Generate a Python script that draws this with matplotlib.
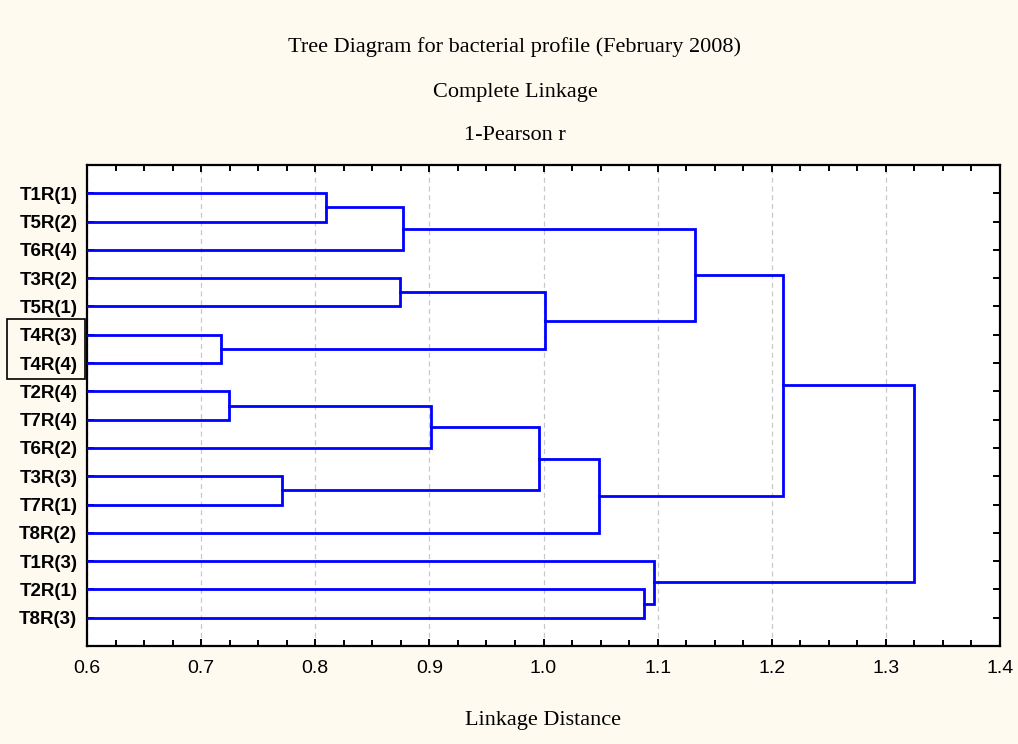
import matplotlib
matplotlib.use("Agg")
import matplotlib.pyplot as plt
from matplotlib.patches import Rectangle
from matplotlib.ticker import MultipleLocator
import matplotlib.transforms as mtransforms

# leaf labels, top to bottom
leaves = ["T1R(1)", "T5R(2)", "T6R(4)", "T3R(2)", "T5R(1)", "T4R(3)", "T4R(4)",
          "T2R(4)", "T7R(4)", "T6R(2)", "T3R(3)", "T7R(1)", "T8R(2)",
          "T1R(3)", "T2R(1)", "T8R(3)"]

# merges: (left child, right child, linkage distance); children are leaf names or merge ids
merges = {
    "A": ("T1R(1)", "T5R(2)", 0.809),
    "B": ("A", "T6R(4)", 0.877),
    "C": ("T3R(2)", "T5R(1)", 0.874),
    "D": ("T4R(3)", "T4R(4)", 0.717),
    "E": ("C", "D", 1.001),
    "F": ("B", "E", 1.133),
    "G": ("T2R(4)", "T7R(4)", 0.724),
    "H": ("G", "T6R(2)", 0.901),
    "I": ("T3R(3)", "T7R(1)", 0.771),
    "J": ("H", "I", 0.996),
    "K": ("J", "T8R(2)", 1.049),
    "L": ("F", "K", 1.210),
    "M": ("T2R(1)", "T8R(3)", 1.088),
    "N": ("T1R(3)", "M", 1.097),
    "O": ("L", "N", 1.325),
}

xmin, xmax = 0.6, 1.4
bg = "#fefaf0"
blue = "#0000ff"

fig = plt.figure(figsize=(10.18, 7.44), dpi=100, facecolor=bg)
ax = fig.add_axes([87 / 1018, 1 - 646 / 744, 913 / 1018, 481 / 744])
ax.set_facecolor("white")

pos = {name: (xmin, i + 1) for i, name in enumerate(leaves)}
for key, (a, b, d) in merges.items():
    xa, ya = pos[a]
    xb, yb = pos[b]
    ax.plot([xa, d, d, xb], [ya, ya, yb, yb], color=blue, lw=2.0,
            solid_joinstyle="miter", zorder=3)
    pos[key] = (d, (ya + yb) / 2)

ax.set_xlim(xmin, xmax)
ax.set_ylim(len(leaves) + 1, 0)
ax.xaxis.set_major_locator(MultipleLocator(0.1))
ax.xaxis.set_minor_locator(MultipleLocator(0.025))
ax.set_xticklabels([f"{v:.1f}" for v in ax.get_xticks()])
ax.set_yticks(range(1, len(leaves) + 1))
ax.set_yticklabels(leaves, fontsize=13.5, fontweight="bold", family="Liberation Sans")
for lbl in ax.get_xticklabels():
    lbl.set_family("Liberation Sans")
    lbl.set_fontsize(14)
ax.tick_params(axis="both", which="both", direction="in", top=True, right=True,
               width=1.4, color="black")
ax.tick_params(axis="x", which="major", length=5, pad=10)
ax.tick_params(axis="x", which="minor", length=4)
ax.tick_params(axis="y", which="major", length=5, pad=7)
ax.grid(axis="x", which="major", color="#c8c8c8", ls=(0, (4, 3)), lw=0.9, zorder=0)
for s in ax.spines.values():
    s.set_linewidth(1.6)

# box around the T4R labels
trans = mtransforms.blended_transform_factory(ax.transAxes, ax.transData)
ax.add_patch(Rectangle((-80 / 913, 5.45), 78 / 913, 2.1, transform=trans,
                       fill=False, ec="black", lw=1.2, clip_on=False))

serif = "Liberation Serif"
fig.text(515 / 1018, 1 - 47 / 744, "Tree Diagram for bacterial profile (February 2008)",
         ha="center", va="center", fontsize=16, family=serif)
fig.text(515 / 1018, 1 - 92 / 744, "Complete Linkage", ha="center", va="center",
         fontsize=16, family=serif)
fig.text(515 / 1018, 1 - 135 / 744, "1-Pearson r", ha="center", va="center",
         fontsize=16, family=serif)
fig.text(543 / 1018, 1 - 720 / 744, "Linkage Distance", ha="center", va="center",
         fontsize=16, family=serif)

fig.savefig("out.png", dpi=100, facecolor=bg)
